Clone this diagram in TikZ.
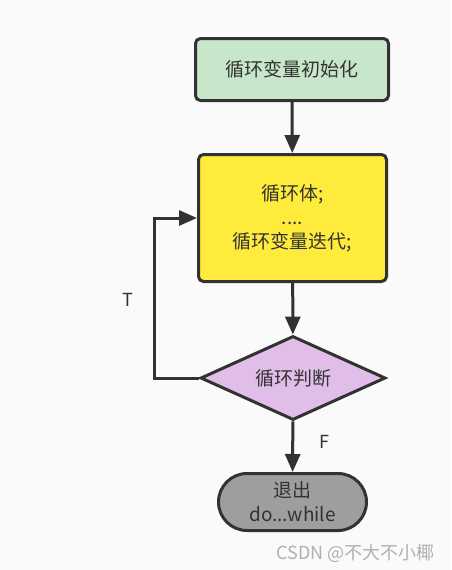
\documentclass[tikz,border=0pt]{standalone}
\usepackage{fontspec}
\setmainfont{Noto Sans CJK SC}
\usetikzlibrary{shapes.geometric,shapes.misc,arrows.meta}
\definecolor{bg}{HTML}{FAFAFA}
\definecolor{stroke}{HTML}{323232}
\definecolor{txt}{HTML}{333333}
\definecolor{cgreen}{HTML}{C8E6C9}
\definecolor{cyellow}{HTML}{FFEB3B}
\definecolor{cpurple}{HTML}{E1BEE7}
\definecolor{cgray}{HTML}{9E9E9E}
\definecolor{wm}{HTML}{B0B0B0}
\tikzset{
  base/.style={draw=stroke, line width=3pt, text=txt, inner sep=0pt,
    font=\fontsize{19}{24}\selectfont, align=center},
  procbox/.style={base, rectangle, rounded corners=5pt},
  decision/.style={base, diamond, aspect=2.2},
  terminal/.style={base, rounded rectangle},
  arr/.style={draw=stroke, line width=3pt, -{Triangle[length=18pt,width=15pt]}},
  lbl/.style={text=txt, font=\fontsize{18}{22}\selectfont, inner sep=0pt}
}
\begin{document}
\begin{tikzpicture}[x=1pt,y=-1pt]
\path[use as bounding box, fill=bg] (0,0) rectangle (451,570);
\node[procbox, fill=cgreen, minimum width=193pt, minimum height=62pt] (init) at (292,69.5) {循环变量初始化};
\node[procbox, fill=cyellow, minimum width=188pt, minimum height=127pt] (body) at (292.5,218) {循环体;\\....\\循环变量迭代;};
\node[decision, fill=cpurple, minimum width=185pt, minimum height=84pt] (cond) at (293,378) {循环判断};
\node[terminal, fill=cgray, minimum width=148pt, minimum height=57pt] (exit) at (292.5,502) {退出\\do...while};
\coordinate (lp) at (154,218);
\draw[arr] (init) -- (body);
\draw[arr] (body) -- (cond);
\draw[arr] (cond) -- (exit);
\draw[arr] (cond.west) -| (lp) -- (body.west);
\node[lbl] (t) at (128,300) {T};
\node[lbl] (f) at (324,442) {F};
\node[text=wm, font=\fontsize{18}{22}\selectfont, inner sep=0pt, anchor=east] (w) at (435,553) {CSDN @不大不小椰};
\end{tikzpicture}
\end{document}
